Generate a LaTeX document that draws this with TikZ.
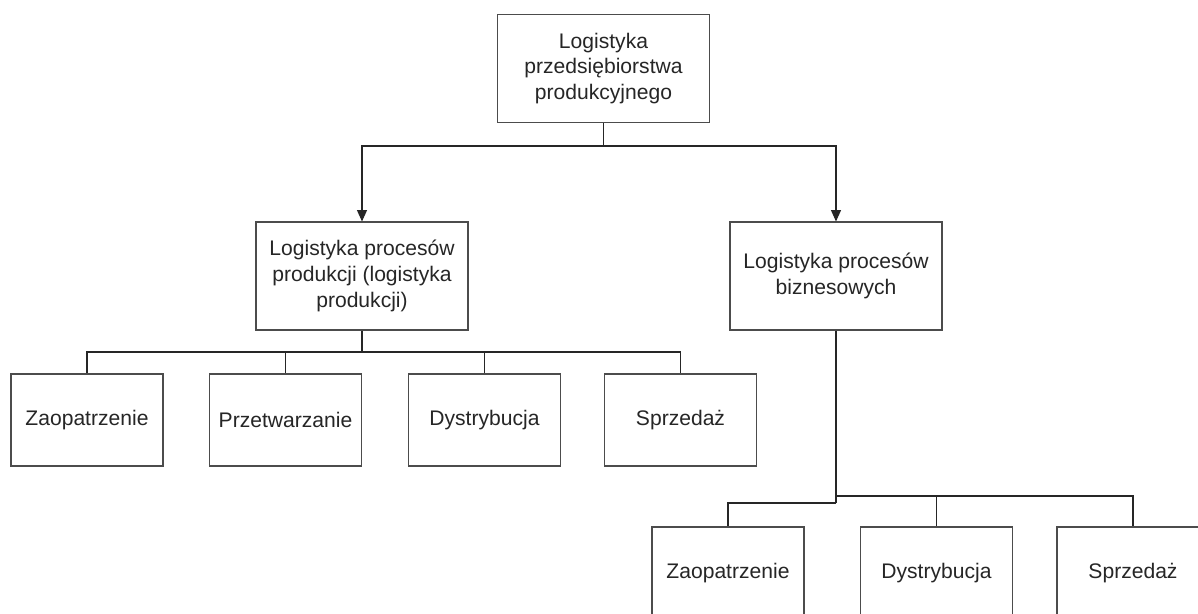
\documentclass[tikz,border=0pt]{standalone}
\usepackage{fontspec}
\setmainfont{Liberation Sans}
\usetikzlibrary{arrows.meta}
\begin{document}
\begin{tikzpicture}[x=0.02cm,y=-0.02cm,
  every node/.style={font=\fontsize{12}{14.6}\selectfont,text=black!85},
  blok/.style={draw=black!70,line width=0.6pt,align=center,inner sep=0pt},
  duzy/.style={blok,minimum width=4.24cm,minimum height=2.16cm},
  maly/.style={blok,minimum width=3.04cm,minimum height=1.84cm},
  linia/.style={draw=black!85,line width=0.6pt},
  strzalka/.style={linia,-{Triangle[width=5.6pt,length=6.4pt]}}]
\fill[white] (0,0) rectangle (1198,613);
\clip (0,0) rectangle (1198,613);
\node[duzy] (glowny) at (603.5,68.5) {Logistyka\\przedsiębiorstwa\\produkcyjnego};
\node[duzy] (produkcja) at (362,276) {Logistyka procesów\\produkcji (logistyka\\produkcji)};
\node[duzy] (biznes) at (836,276) {Logistyka procesów\\biznesowych};
\node[maly] (zaop1) at (87,420) {Zaopatrzenie};
\node[maly] (przetw) at (285.5,420) {Przetwarzanie};
\node[maly] (dystr1) at (484.5,420) {Dystrybucja};
\node[maly] (sprz1) at (680.5,420) {Sprzedaż};
\node[maly] (zaop2) at (728,573) {Zaopatrzenie};
\node[maly] (dystr2) at (936.5,573) {Dystrybucja};
\node[maly] (sprz2) at (1133,573) {Sprzedaż};
\coordinate (rozgl) at (603.5,146);
\coordinate (rozp) at (362,352);
\coordinate (rozb) at (836,496);
\coordinate (rozz) at (836,503);
\draw[linia] (glowny.south) -- (rozgl);
\draw[strzalka] (rozgl) -| (produkcja.north);
\draw[strzalka] (rozgl) -| (biznes.north);
\draw[linia] (produkcja.south) -- (rozp);
\draw[linia] (rozp) -| (zaop1.north);
\draw[linia] (rozp) -| (przetw.north);
\draw[linia] (rozp) -| (dystr1.north);
\draw[linia] (rozp) -| (sprz1.north);
\draw[linia] (biznes.south) -- (rozz);
\draw[linia] (rozz) -| (zaop2.north);
\draw[linia] (rozb) -| (dystr2.north);
\draw[linia] (rozb) -| (sprz2.north);
\end{tikzpicture}
\end{document}
